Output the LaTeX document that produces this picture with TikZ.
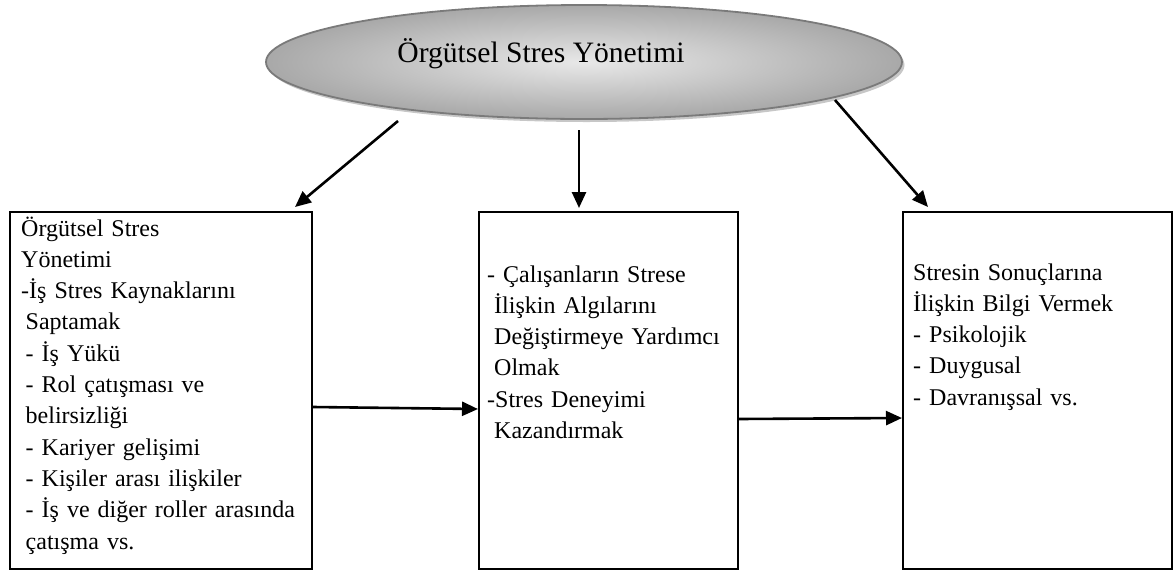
\documentclass[tikz,border=0pt]{standalone}
\usepackage{fontspec}
\setmainfont{Liberation Serif}
\usetikzlibrary{arrows.meta,shapes.geometric,shadows}
\newcommand\ind{\hspace*{4.5pt}}
\newcommand\indm{\hspace*{7pt}}
\begin{document}
\begin{tikzpicture}[x=1pt,y=-1pt,
  box/.style={draw,line width=2pt,minimum height=357pt,inner sep=0pt},
  txt/.style={anchor=base west,align=left,inner sep=0pt,text width=300pt,
    font=\fontsize{24}{31.3}\selectfont},
  arr/.style={line width=2.6pt,-{Triangle[length=16pt,width=14pt]}},
  ell/.style={ellipse,draw=black!52,line width=1.8pt,minimum width=636pt,
    minimum height=114pt,inner sep=0pt,shading=radial,inner color=black!9,
    outer color=black!34,
    drop shadow={shadow xshift=2.5pt,shadow yshift=-3pt,fill=black!22,opacity=1}},
]
\useasboundingbox (0,0) rectangle (1176,571);
% ellipse
\node[ell] (ell) at (584,62) {};
\node[anchor=base,inner sep=0pt,font=\fontsize{29.6}{36}\selectfont] (ellt) at (541,62) {Örgütsel Stres Yönetimi};
% boxes
\node[box,minimum width=302pt] (lbox) at (161,390.5) {};
\node[box,minimum width=259pt] (mbox) at (608.5,390.5) {};
\node[box,minimum width=269pt] (rbox) at (1037.5,390.5) {};
% texts
\node[txt] (ltxt) at (21,236) {Örgütsel Stres\\Yönetimi\\-İş Stres Kaynaklarını\\\ind Saptamak\\\ind - İş Yükü\\\ind - Rol çatışması ve\\\ind belirsizliği\\\ind - Kariyer gelişimi\\\ind - Kişiler arası ilişkiler\\\ind - İş ve diğer roller arasında\\\ind çatışma vs.};
\node[txt] (mtxt) at (487,282) {- Çalışanların Strese\\\indm İlişkin Algılarını\\\indm Değiştirmeye Yardımcı\\\indm Olmak\\-Stres Deneyimi\\\indm Kazandırmak};
\node[txt] (rtxt) at (913,280) {Stresin Sonuçlarına\\İlişkin Bilgi Vermek\\- Psikolojik\\- Duygusal\\- Davranışsal vs.};
% arrows
\coordinate (s1) at (398,121);
\coordinate (e1) at (295,207);
\coordinate (s2) at (579,130);
\coordinate (s3) at (835,100);
\coordinate (e3) at (928,207);
\draw[arr] (s1) -- (e1);
\draw[arr,shorten >=3pt] (s2) -- (s2 |- mbox.north);
\draw[arr] (s3) -- (e3);
\draw[arr] ([yshift=-16.5pt]lbox.east) -- ([yshift=-18.5pt]mbox.west);
\draw[arr] ([yshift=-28.5pt]mbox.east) -- ([yshift=-27.5pt]rbox.west);
\end{tikzpicture}
\end{document}
